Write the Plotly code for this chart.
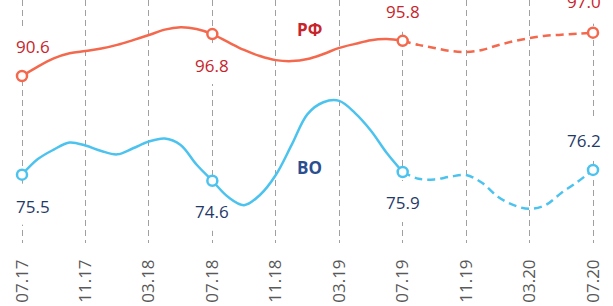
import plotly.graph_objects as go

# monthly readings, x = months since 07.2017
months = list(range(0, 37))
rf_values = [90.6, 92.0, 93.2, 93.95, 94.3, 94.65, 95.2, 95.9, 96.65, 97.45, 97.8, 97.55,
             96.8, 95.6, 94.45, 93.55, 92.95, 92.8, 93.1, 93.85, 94.75, 95.35, 95.9, 96.05,
             95.8, 95.2, 94.75, 94.3, 94.15, 94.45, 95.15, 95.75, 96.2, 96.55, 96.7, 96.85,
             97.0]
vo_values = [75.5, 77.8, 79.2, 80.25, 79.8, 79.0, 78.5, 79.4, 80.4, 80.85, 79.9, 77.0,
             74.6, 72.2, 71.0, 72.5, 75.45, 79.9, 84.45, 86.2, 86.4, 84.6, 82.0, 78.7,
             75.9, 74.9, 74.8, 75.2, 75.45, 74.3, 72.25, 71.0, 70.45, 71.0, 72.8, 74.4,
             76.2]

tick_months = list(range(0, 37, 4))
tick_labels = ["07.17", "11.17", "03.18", "07.18", "11.18", "03.19",
               "07.19", "11.19", "03.20", "07.20"]

marker_months = [0, 12, 24, 36]
rf_marked = [90.6, 96.8, 95.8, 97.0]
vo_marked = [75.5, 74.6, 75.9, 76.2]
rf_label_shift = [(11, 30), (0, -31), (0, 29), (-9, 31)]
vo_label_shift = [(11, -32), (0, -31), (0, -31), (-9, 29)]

RED = "#F4694D"
BLUE = "#4CC3EE"
RED_TXT = "#C8242B"
BLUE_TXT = "#1F3A68"

split = months.index(24)

fig = go.Figure()

def add_series(vals, color, yaxis):
    fig.add_trace(go.Scatter(x=months[:split + 1], y=vals[:split + 1], mode="lines",
                             line=dict(color=color, width=2.5, shape="spline", smoothing=1.0),
                             yaxis=yaxis, hoverinfo="skip", showlegend=False))
    fig.add_trace(go.Scatter(x=months[split:], y=vals[split:], mode="lines",
                             line=dict(color=color, width=2.5, shape="spline", smoothing=1.0,
                                       dash="8px,5px"),
                             yaxis=yaxis, hoverinfo="skip", showlegend=False))

add_series(rf_values, RED, "y")
add_series(vo_values, BLUE, "y2")

fig.add_trace(go.Scatter(x=marker_months, y=rf_marked, mode="markers",
                         marker=dict(size=10, color="white", line=dict(color=RED, width=2.5)),
                         yaxis="y", showlegend=False, hoverinfo="skip"))
fig.add_trace(go.Scatter(x=marker_months, y=vo_marked, mode="markers",
                         marker=dict(size=10, color="white", line=dict(color=BLUE, width=2.5)),
                         yaxis="y2", showlegend=False, hoverinfo="skip"))

annotations = []
shapes = []

def add_labels(vals, shifts, yref, color):
    for m, v, (dx, dy) in zip(marker_months, vals, shifts):
        annotations.append(dict(x=m, y=v, xref="x", yref=yref, text=f"{v:.1f}",
                                showarrow=False, xshift=dx, yshift=dy,
                                font=dict(family="Open Sans", size=17, color=color)))
        # white gap in the dashed gridline behind the data label
        y0, y1 = (9, 50) if dy > 0 else (-50, -9)
        shapes.append(dict(type="rect", layer="above", xref="x", yref=yref,
                           xsizemode="pixel", ysizemode="pixel", xanchor=m, yanchor=v,
                           x0=-2, x1=2, y0=y0, y1=y1,
                           fillcolor="white", line=dict(width=0)))

add_labels(rf_marked, rf_label_shift, "y", RED_TXT)
add_labels(vo_marked, vo_label_shift, "y2", BLUE_TXT)

annotations.append(dict(x=18.1, y=97.4, xref="x", yref="y", text="<b>РФ</b>", showarrow=False,
                        font=dict(family="Open Sans", size=17, color=RED_TXT)))
annotations.append(dict(x=18.1, y=76.6, xref="x", yref="y2", text="<b>ВО</b>", showarrow=False,
                        font=dict(family="Open Sans", size=17, color="#2A4F8F")))

fig.update_layout(
    width=613, height=306,
    margin=dict(l=0, r=0, t=0, b=63),
    paper_bgcolor="white", plot_bgcolor="white",
    annotations=annotations,
    shapes=shapes,
    xaxis=dict(range=[-1.387, 37.26], tickmode="array", tickvals=tick_months,
               ticktext=tick_labels, tickangle=-90, showgrid=True, gridcolor="#A0A0A0",
               gridwidth=1, griddash="6px,4px", zeroline=False, showline=False,
               ticklabelstandoff=12,
               tickfont=dict(family="Open Sans", size=17, color="#595959")),
    yaxis=dict(range=[65.93, 101.83], visible=False, showgrid=False, zeroline=False),
    yaxis2=dict(range=[65.41, 101.30], visible=False, showgrid=False, zeroline=False,
                overlaying="y"),
)

fig.write_html("out.html", config={"displayModeBar": False},
               post_script="document.body.style.margin='0';document.body.style.overflow='hidden';")
